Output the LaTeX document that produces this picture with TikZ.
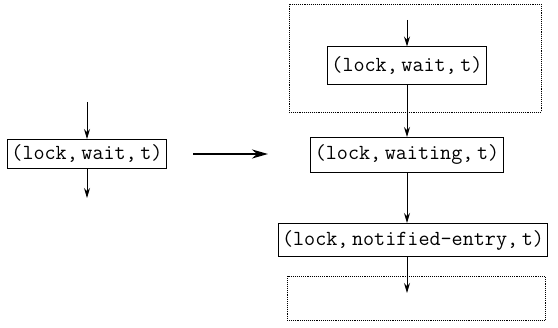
\documentclass[tikz,border=0pt]{standalone}
\usepackage{fontspec}
\usetikzlibrary{arrows.meta,positioning}

\tikzstyle{state} = [draw, rectangle, line width=1pt, inner xsep=4pt, inner ysep=4pt,
                     font=\fontsize{21.5}{25}\selectfont\ttfamily]
\tikzstyle{frame} = [draw, rectangle, line width=0.9pt, densely dotted]
\tikzstyle{flow} = [-{Stealth[length=10pt,width=6pt]}, line width=1pt]
\tikzstyle{becomes} = [-{Stealth[length=16pt,width=9pt,inset=5pt]}, line width=2pt]

\begin{document}
\begin{tikzpicture}[x=1pt, y=-1pt]

\useasboundingbox (0,0) rectangle (558,328);

% single step before the rewrite
\node[state, minimum height=29pt]
      (lw) at (87,154) {(lock,\,wait,\,t)};

\coordinate (lwin) at (87,102);
\coordinate (lwout) at (87,198);

\draw[flow] (lwin) -- (lw.north);
\draw[flow] (lw.south) -- (lwout);

\coordinate (bstart) at (193,154);
\coordinate (bend) at (268,154);

\draw[becomes] (bstart) -- (bend);

% the rewritten chain
\node[frame, minimum width=252pt, minimum height=108pt]
      (upper) at (415,58) {};

\node[state, minimum height=38pt]
      (w) at (407,66) {(lock,\,wait,\,t)};

\node[state, minimum height=35pt]
      (wg) at (407,155) {(lock,\,waiting,\,t)};

\node[state, minimum height=33pt]
      (ne) at (413,240) {(lock,\,notified-entry,\,t)};

\node[frame, minimum width=258pt, minimum height=44pt]
      (lower) at (416,298) {};

\coordinate (win) at (407,20);
\coordinate (neout) at (407,293);

\draw[flow] (win) -- (w.north);

\draw[flow]
     (w.south) -- (wg.north);

\draw[flow]
     (wg.south) -- (wg.south |- ne.north);

\draw[flow]
     (ne.south -| wg.south) -- (neout);

\end{tikzpicture}
\end{document}
